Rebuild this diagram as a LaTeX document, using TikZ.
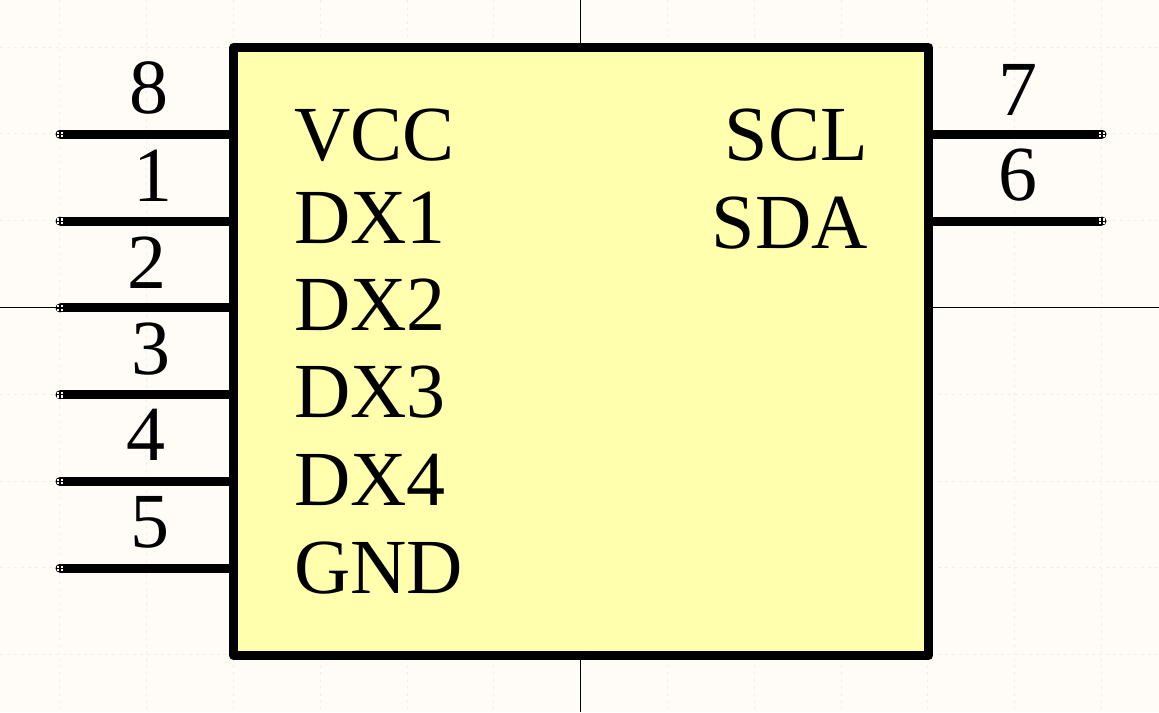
\documentclass[tikz,border=0pt]{standalone}
\usepackage{fontspec}
\setmainfont{Liberation Serif}
\definecolor{bgc}{HTML}{FFFCF8}
\definecolor{gridc}{HTML}{F1EFEA}
\definecolor{bodyc}{HTML}{FFFFAD}
\tikzset{
  x=1pt,y=-1pt,
  gridline/.style={draw=gridc,line width=1pt,dash pattern=on 3pt off 4pt},
  axisline/.style={draw=black,line width=1pt},
  chipbody/.style={draw=black,fill=bodyc,line width=9pt,line join=round},
  pinline/.style={draw=black,line width=9pt},
  hothole/.style={fill=bgc},
  hotend/.style={circle,fill=black,inner sep=0pt,minimum size=9pt},
  txt/.style={inner sep=0pt,font=\fontsize{78}{78}\selectfont,text=black},
  pinname/.style={txt,anchor=base west},
  rightname/.style={txt,anchor=base east},
  pinnum/.style={txt,anchor=base},
}
\newcommand{\hotholes}[2]{%
  \fill[hothole] (#1-2.8,#2-2.8) rectangle (#1-0.6,#2-0.6);
  \fill[hothole] (#1+0.6,#2-2.8) rectangle (#1+2.8,#2-0.6);
  \fill[hothole] (#1-2.8,#2+0.6) rectangle (#1-0.6,#2+2.8);
  \fill[hothole] (#1+0.6,#2+0.6) rectangle (#1+2.8,#2+2.8);
}
\begin{document}
\begin{tikzpicture}
\useasboundingbox (0,0) rectangle (1159,712);
\fill[bgc] (0,0) rectangle (1159,712);
\foreach \i in {-6,...,6}{\draw[gridline] ({580.7+\i*86.8},0) -- ({580.7+\i*86.8},712);}
\foreach \j in {-3,...,4}{\draw[gridline] (0,{307.5+\j*86.8}) -- (1159,{307.5+\j*86.8});}
\coordinate (axT) at (580.7,0);\coordinate (axB) at (580.7,712);
\coordinate (axL) at (0,307.5);\coordinate (axR) at (1159,307.5);
\draw[axisline] (axT) -- (axB);
\draw[axisline] (axL) -- (axR);
\draw[chipbody] (233.7,47.5) rectangle (928.5,655.5);
% pins
\foreach \n/\y in {8/134.3,1/221.1,2/307.9,3/394.7,4/481.5,5/568.3}{
  \coordinate (pi\n) at (233.7,\y);
  \node[hotend] (po\n) at (60,\y) {};
  \draw[pinline] (po\n.center) -- (pi\n);
  \hotholes{60}{\y}
}
\foreach \n/\y in {7/134.3,6/221.1}{
  \coordinate (pi\n) at (928.5,\y);
  \node[hotend] (po\n) at (1102,\y) {};
  \draw[pinline] (pi\n) -- (po\n.center);
  \hotholes{1102}{\y}
}
\node[pinnum] (n8) at (149,113.8) {8};
\node[pinnum] (n1) at (153,201.5) {1};
\node[pinnum] (n2) at (146.5,288.3) {2};
\node[pinnum] (n3) at (151,374) {3};
\node[pinnum] (n4) at (146,460.7) {4};
\node[pinnum] (n5) at (149.7,547.5) {5};
\node[pinnum] (n7) at (1018,115) {7};
\node[pinnum] (n6) at (1018,200.7) {6};
\node[pinname] (lv) at (294,160.5) {VCC};
\node[pinname] (l1) at (294,243.5) {DX1};
\node[pinname] (l2) at (294,330) {DX2};
\node[pinname] (l3) at (294,417.5) {DX3};
\node[pinname] (l4) at (294,505) {DX4};
\node[pinname] (lg) at (294,593.5) {GND};
\node[rightname] (rs) at (868,160.5) {SCL};
\node[rightname] (rd) at (868,248) {SDA};
\end{tikzpicture}
\end{document}
